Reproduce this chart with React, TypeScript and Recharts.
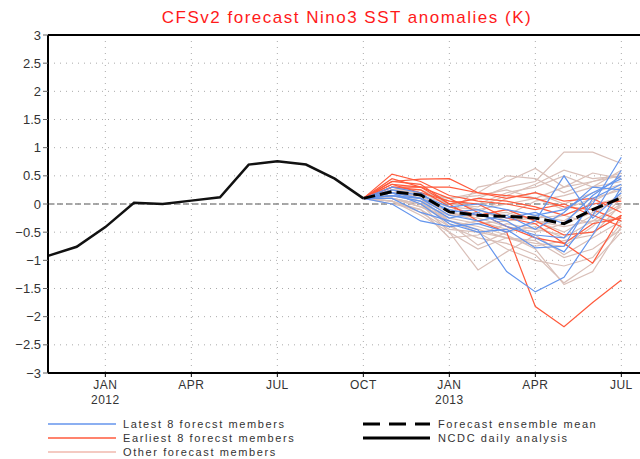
import { LineChart, Line, XAxis, YAxis, CartesianGrid, ReferenceLine } from "recharts";

// month index 0 = Nov 2011 ... 20 = Jul 2013
const analysisMonths = [0, 1, 2, 3, 4, 5, 6, 7, 8, 9, 10, 11];
const ncdcDaily = [-0.92, -0.76, -0.41, 0.02, 0.0, 0.06, 0.12, 0.7, 0.76, 0.7, 0.45, 0.1];

const forecastMonths = [11, 12, 13, 14, 15, 16, 17, 18, 19, 20];
const ensembleMean = [0.1, 0.22, 0.16, -0.14, -0.2, -0.22, -0.25, -0.35, -0.1, 0.11];

// Oct 2012 .. Jul 2013
const latestMembers = [
  [0.1, 0.1, -0.15, -0.3, -0.46, -1.2, -1.56, -1.3, -0.55, 0.3],
  [0.1, 0.0, -0.3, -0.4, -0.35, -0.5, -0.3, 0.5, -0.25, 0.2],
  [0.1, 0.15, 0.05, -0.25, -0.15, -0.4, -0.55, -0.6, 0.0, 0.83],
  [0.1, 0.2, 0.1, -0.1, -0.2, -0.3, -0.6, -0.85, -0.2, 0.6],
  [0.1, 0.25, 0.15, -0.05, 0.0, -0.1, -0.2, -0.1, 0.2, 0.45],
  [0.1, 0.2, 0.0, -0.35, -0.5, -0.45, -0.78, -0.75, 0.1, 0.35],
  [0.1, 0.3, 0.2, -0.15, -0.1, -0.25, -0.15, -0.35, 0.15, 0.5],
  [0.1, 0.15, 0.1, -0.2, -0.3, -0.2, -0.45, -0.15, 0.3, 0.25],
];

const earliestMembers = [
  [0.1, 0.3, 0.3, 0.0, -0.3, -0.5, -1.82, -2.18, -1.75, -1.35],
  [0.1, 0.53, 0.4, 0.15, 0.05, 0.0, -0.1, 0.0, -0.2, -0.4],
  [0.1, 0.4, 0.44, 0.45, 0.2, 0.15, 0.1, -0.05, -0.1, -0.3],
  [0.1, 0.35, 0.3, 0.1, -0.15, -0.4, -0.6, -0.7, -1.05, -0.2],
  [0.1, 0.4, 0.35, 0.0, 0.1, 0.05, -0.05, -0.2, 0.0, 0.05],
  [0.1, 0.3, 0.25, -0.05, -0.2, -0.1, -0.3, -0.55, -0.5, -0.2],
  [0.1, 0.45, 0.3, 0.3, 0.2, 0.1, 0.2, 0.05, 0.1, -0.15],
  [0.1, 0.35, 0.2, 0.05, 0.0, -0.25, -0.35, -0.7, -0.35, -0.25],
];

const otherMembers = [
  [0.1, 0.1, 0.0, -0.2, 0.3, 0.4, 0.63, 0.3, 0.4, 0.5],
  [0.1, 0.2, 0.15, 0.0, 0.1, 0.3, 0.4, 0.92, 0.92, 0.72],
  [0.1, 0.15, 0.1, -0.35, -0.73, -0.5, -0.4, -0.6, -0.3, 0.0],
  [0.1, 0.05, -0.2, -0.5, -1.17, -0.85, -0.55, -0.9, -0.6, -0.3],
  [0.1, 0.0, -0.1, -0.4, -0.6, -0.7, -0.9, -1.4, -1.05, -0.5],
  [0.1, 0.2, 0.0, -0.3, -0.4, -0.55, -0.8, -1.43, -1.2, -0.4],
  [0.1, 0.25, 0.2, 0.0, 0.0, 0.2, 0.3, 0.5, 0.3, 0.4],
  [0.1, 0.15, 0.2, 0.1, 0.2, 0.5, 0.45, 0.2, 0.4, 0.55],
  [0.1, 0.1, -0.05, -0.25, -0.35, -0.3, -0.2, -0.3, 0.05, 0.3],
  [0.1, 0.2, 0.1, -0.15, -0.25, -0.4, -0.5, -0.35, -0.15, 0.15],
  [0.1, 0.05, -0.15, -0.45, -0.5, -0.6, -0.7, -0.75, -0.4, 0.1],
  [0.1, 0.25, 0.25, 0.05, -0.1, 0.0, 0.1, 0.3, 0.55, 0.45],
  [0.1, 0.15, 0.05, -0.1, -0.2, -0.15, -0.3, -0.5, -0.2, 0.2],
  [0.1, 0.2, 0.1, -0.3, -0.45, -0.6, -0.65, -0.95, -0.8, -0.45],
  [0.1, 0.1, 0.0, -0.2, -0.15, 0.1, 0.2, 0.0, 0.2, 0.35],
  [0.1, 0.3, 0.2, 0.1, 0.15, 0.25, 0.1, -0.1, 0.1, 0.25],
  [0.1, 0.05, -0.1, -0.6, -0.55, -0.35, -0.45, -0.55, -0.5, -0.2],
  [0.1, 0.2, 0.15, -0.15, -0.3, -0.2, 0.05, 0.15, 0.3, 0.6],
  [0.1, 0.1, -0.05, -0.3, -0.5, -0.8, -1.0, -1.1, -0.95, -0.35],
  [0.1, 0.25, 0.1, -0.05, -0.1, -0.3, -0.25, -0.2, -0.35, -0.05],
  [0.1, 0.15, 0.05, -0.4, -0.3, -0.45, -0.35, -0.2, 0.0, 0.1],
  [0.1, 0.2, 0.2, 0.0, -0.05, 0.15, 0.35, 0.6, 0.45, 0.5],
  [0.1, 0.1, 0.0, -0.5, -0.8, -0.6, -0.75, -0.65, -0.55, 0.0],
  [0.1, 0.15, 0.1, -0.2, -0.2, -0.1, -0.3, -0.4, -0.3, -0.25],
];

const tickMonths = [2, 5, 8, 11, 14, 17, 20];
const tickNames = ["JAN", "APR", "JUL", "OCT", "JAN", "APR", "JUL"];
const tickYears = ["2012", "", "", "", "2013", "", ""];
const yTicks = [-3, -2.5, -2, -1.5, -1, -0.5, 0, 0.5, 1, 1.5, 2, 2.5, 3];

const BLUE = "#6495ed";
const RED = "#ff5a3c";
const OTHER = "#d9bfb8";
const FONT = "'Liberation Sans', Arial, sans-serif";

const rows = Array.from({ length: 21 }, (_, m) => {
  const row: Record<string, number> = { m };
  const a = analysisMonths.indexOf(m);
  if (a >= 0) row.ncdc = ncdcDaily[a];
  const f = forecastMonths.indexOf(m);
  if (f >= 0) {
    row.mean = ensembleMean[f];
    latestMembers.forEach((s, k) => (row[`b${k}`] = s[f]));
    earliestMembers.forEach((s, k) => (row[`r${k}`] = s[f]));
    otherMembers.forEach((s, k) => (row[`o${k}`] = s[f]));
  }
  return row;
});

const fmtY = (v: number) => (v < 0 ? "\u2212" + Math.abs(v) : String(v));

function MonthTick({ x, y, payload }: any) {
  const i = tickMonths.indexOf(payload.value);
  return (
    <text x={x} textAnchor="middle" fontSize={12} fill="#333" fontFamily={FONT} letterSpacing={0.5}>
      <tspan x={x} y={y + 10}>{tickNames[i]}</tspan>
      {tickYears[i] && <tspan x={x} y={y + 25}>{tickYears[i]}</tspan>}
    </text>
  );
}

export default function App() {
  return (
    <div style={{ position: "fixed", left: 0, top: 0, width: 640, height: 459, overflow: "hidden", background: "#fff" }}>
      <LineChart width={650} height={459} data={rows} margin={{ top: 35, right: 0, bottom: 0, left: 0 }}>
        <CartesianGrid stroke="#aaa" strokeDasharray="1 5" />
        <XAxis
          type="number"
          dataKey="m"
          domain={[0, 21]}
          ticks={tickMonths}
          height={86}
          tick={<MonthTick />}
          tickSize={4}
          axisLine={{ stroke: "#000", strokeWidth: 2 }}
          tickLine={{ stroke: "#000" }}
        />
        <YAxis
          type="number"
          domain={[-3, 3]}
          ticks={yTicks}
          width={48}
          tickSize={5}
          tickFormatter={fmtY}
          tick={{ fontSize: 13, fill: "#333", fontFamily: FONT }}
          axisLine={{ stroke: "#000", strokeWidth: 2 }}
          tickLine={{ stroke: "#666" }}
        />
        <ReferenceLine y={3} stroke="#000" strokeWidth={2} />
        <ReferenceLine y={0} stroke="#8c8c8c" strokeWidth={1.6} strokeDasharray="6 3" />
        {otherMembers.map((_, k) => (
          <Line key={`o${k}`} dataKey={`o${k}`} stroke={OTHER} strokeWidth={1.2} dot={false} isAnimationActive={false} />
        ))}
        {earliestMembers.map((_, k) => (
          <Line key={`r${k}`} dataKey={`r${k}`} stroke={RED} strokeWidth={1.2} dot={false} isAnimationActive={false} />
        ))}
        {latestMembers.map((_, k) => (
          <Line key={`b${k}`} dataKey={`b${k}`} stroke={BLUE} strokeWidth={1.2} dot={false} isAnimationActive={false} />
        ))}
        <Line dataKey="mean" stroke="#000" strokeWidth={3} strokeDasharray="12 5" dot={false} isAnimationActive={false} />
        <Line dataKey="ncdc" stroke="#111" strokeWidth={2.5} dot={false} isAnimationActive={false} />
      </LineChart>
      <svg width={640} height={459} style={{ position: "absolute", left: 0, top: 0, pointerEvents: "none" }}>
        <text x={347} y={23} textAnchor="middle" fontSize={17} fill="#ff1a1a" fontFamily={FONT} letterSpacing={1.5}>
          CFSv2 forecast Nino3 SST anomalies (K)
        </text>
        <g fontSize={11} fill="#333" fontFamily={FONT} letterSpacing={1.6}>
          <line x1={48} x2={116} y1={424} y2={424} stroke={BLUE} strokeWidth={1.5} />
          <text x={123} y={428}>Latest 8 forecst members</text>
          <line x1={48} x2={116} y1={438} y2={438} stroke={RED} strokeWidth={1.5} />
          <text x={123} y={442}>Earliest 8 forecst members</text>
          <line x1={48} x2={116} y1={452} y2={452} stroke="#f0b8ae" strokeWidth={1.5} />
          <text x={123} y={456}>Other forecast members</text>
          <line x1={363} x2={430} y1={424} y2={424} stroke="#000" strokeWidth={3} strokeDasharray="17 9" />
          <text x={438} y={428}>Forecast ensemble mean</text>
          <line x1={363} x2={430} y1={438} y2={438} stroke="#000" strokeWidth={3} />
          <text x={438} y={442}>NCDC daily analysis</text>
        </g>
      </svg>
    </div>
  );
}
